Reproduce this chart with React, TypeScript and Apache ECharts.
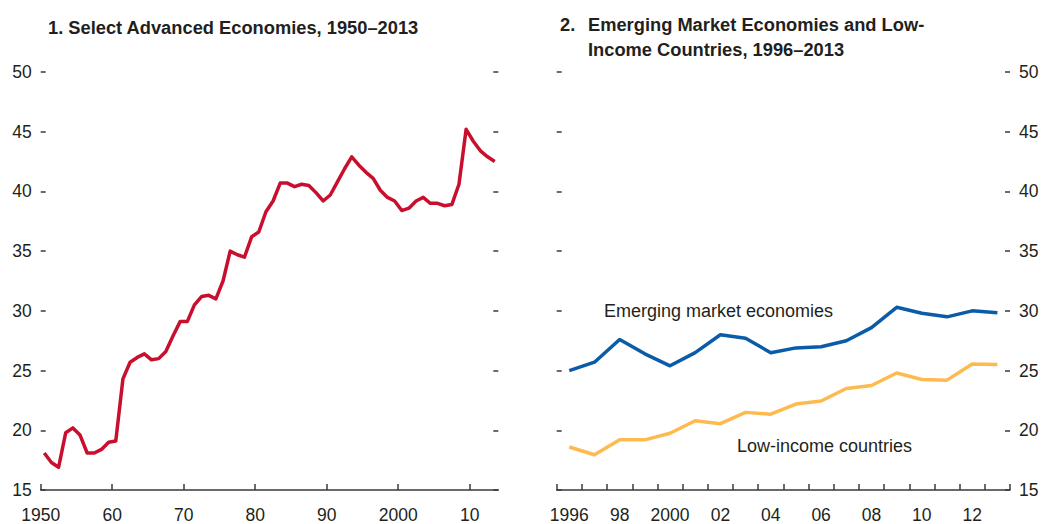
import React, { useEffect, useRef } from "react";
import * as echarts from "echarts";

// Panel 1: Select advanced economies, 1950–2013 (one value per year)
const advStartYear = 1950;
const advValues = [
  18.1, 17.3, 16.9, 19.8, 20.2, 19.6, 18.1, 18.1, 18.4, 19.0,
  19.1, 24.3, 25.7, 26.1, 26.4, 25.9, 26.0, 26.6, 27.9, 29.1,
  29.1, 30.5, 31.2, 31.3, 31.0, 32.5, 35.0, 34.7, 34.5, 36.2,
  36.6, 38.3, 39.2, 40.7, 40.7, 40.4, 40.6, 40.5, 39.9, 39.2,
  39.7, 40.8, 41.9, 42.9, 42.2, 41.6, 41.1, 40.1, 39.5, 39.2,
  38.4, 38.6, 39.2, 39.5, 39.0, 39.0, 38.8, 38.9, 40.6, 45.2,
  44.2, 43.4, 42.9, 42.5,
];
const advTickYears = [1950, 1960, 1970, 1980, 1990, 2000, 2010];

// Panel 2: Emerging market economies and low-income countries, 1996–2013
const emYears = [
  1996, 1997, 1998, 1999, 2000, 2001, 2002, 2003, 2004,
  2005, 2006, 2007, 2008, 2009, 2010, 2011, 2012, 2013,
];
const emergingValues = [
  25.0, 25.7, 27.6, 26.4, 25.4, 26.5, 28.0, 27.7, 26.5,
  26.9, 27.0, 27.5, 28.6, 30.3, 29.8, 29.5, 30.0, 29.85,
];
const lowIncomeValues = [
  18.6, 17.95, 19.2, 19.2, 19.75, 20.8, 20.55, 21.5, 21.35,
  22.2, 22.45, 23.5, 23.75, 24.8, 24.25, 24.2, 25.55, 25.5,
];

const yMin = 15;
const yMax = 50;
const yStep = 5;

const RED = "#c8102e";
const BLUE = "#0a5ca8";
const YELLOW = "#fdbb4f";
const TEXT = "#231f20";
const AXIS = "#3a3a3a";
const FONT = "'Liberation Sans', Arial, sans-serif";

export default function App() {
  const ref = useRef<HTMLDivElement>(null);

  useEffect(() => {
    if (!ref.current) return;
    const chart = echarts.init(ref.current, undefined, { renderer: "svg" });

    const advData = advValues.map((v, i) => [advStartYear + i + 0.5, v]);

    const yTick = { show: true, inside: true, length: 5, lineStyle: { color: AXIS, width: 1.5 } };
    const yLabel = { color: TEXT, fontSize: 17.5, fontFamily: FONT, margin: 9 };
    const titleFont = `bold 18.3px ${FONT}`;

    const option: any = {
      animation: false,
      backgroundColor: "#ffffff",
      grid: [
        { left: 40.7, top: 72, width: 457.6, height: 419 },
        { left: 556.7, top: 72, width: 453.3, height: 419 },
      ],
      xAxis: [
        {
          type: "value",
          gridIndex: 0,
          min: 1950,
          max: 2014,
          interval: 10,
          splitLine: { show: false },
          axisLine: { show: true, lineStyle: { color: AXIS, width: 1.5 } },
          axisTick: {
            show: true,
            inside: true,
            length: 6,
            customValues: advTickYears,
            lineStyle: { color: AXIS, width: 1.5 },
          },
          axisLabel: {
            customValues: advTickYears,
            color: TEXT,
            fontSize: 17.5,
            fontFamily: FONT,
            margin: 16,
            formatter: (v: number) =>
              v === 1950 || v === 2000 ? String(v) : String(v).slice(2),
          },
        },
        {
          type: "category",
          gridIndex: 1,
          data: emYears,
          boundaryGap: true,
          axisLine: { show: true, lineStyle: { color: AXIS, width: 1.5 } },
          axisTick: {
            show: true,
            inside: true,
            length: 6,
            interval: 0,
            lineStyle: { color: AXIS, width: 1.5 },
          },
          axisLabel: {
            interval: 1,
            color: TEXT,
            fontSize: 17.5,
            fontFamily: FONT,
            margin: 16,
            formatter: (v: string) =>
              v === "1996" || v === "2000" ? v : v.slice(2),
          },
        },
      ],
      yAxis: [
        {
          type: "value",
          gridIndex: 0,
          position: "left",
          min: yMin,
          max: yMax,
          interval: yStep,
          splitLine: { show: false },
          axisLine: { show: false },
          axisTick: yTick,
          axisLabel: yLabel,
        },
        {
          type: "value",
          gridIndex: 0,
          position: "right",
          min: yMin,
          max: yMax,
          interval: yStep,
          splitLine: { show: false },
          axisLine: { show: false },
          axisTick: yTick,
          axisLabel: { show: false },
        },
        {
          type: "value",
          gridIndex: 1,
          position: "left",
          min: yMin,
          max: yMax,
          interval: yStep,
          splitLine: { show: false },
          axisLine: { show: false },
          axisTick: yTick,
          axisLabel: { show: false },
        },
        {
          type: "value",
          gridIndex: 1,
          position: "right",
          min: yMin,
          max: yMax,
          interval: yStep,
          splitLine: { show: false },
          axisLine: { show: false },
          axisTick: yTick,
          axisLabel: yLabel,
        },
      ],
      series: [
        {
          name: "Select advanced economies",
          type: "line",
          xAxisIndex: 0,
          yAxisIndex: 0,
          data: advData,
          showSymbol: false,
          lineStyle: { color: RED, width: 3.5, join: "round" },
        },
        {
          name: "Emerging market economies",
          type: "line",
          xAxisIndex: 1,
          yAxisIndex: 2,
          data: emergingValues,
          showSymbol: false,
          lineStyle: { color: BLUE, width: 3.5, join: "round" },
        },
        {
          name: "Low-income countries",
          type: "line",
          xAxisIndex: 1,
          yAxisIndex: 2,
          data: lowIncomeValues,
          showSymbol: false,
          lineStyle: { color: YELLOW, width: 3.5, join: "round" },
        },
      ],
      graphic: [
        {
          type: "text",
          x: 48,
          y: 27,
          style: {
            text: "1. Select Advanced Economies, 1950–2013",
            fill: TEXT,
            font: titleFont,
            align: "left",
            verticalAlign: "middle",
          },
        },
        {
          type: "text",
          x: 560,
          y: 24,
          style: {
            text: "2.",
            fill: TEXT,
            font: titleFont,
            align: "left",
            verticalAlign: "middle",
          },
        },
        {
          type: "text",
          x: 588,
          y: 24,
          style: {
            text: "Emerging Market Economies and Low-",
            fill: TEXT,
            font: titleFont,
            align: "left",
            verticalAlign: "middle",
          },
        },
        {
          type: "text",
          x: 588,
          y: 49,
          style: {
            text: "Income Countries, 1996–2013",
            fill: TEXT,
            font: titleFont,
            align: "left",
            verticalAlign: "middle",
          },
        },
        {
          type: "text",
          x: 604,
          y: 311,
          style: {
            text: "Emerging market economies",
            fill: TEXT,
            font: `18px ${FONT}`,
            align: "left",
            verticalAlign: "middle",
          },
        },
        {
          type: "text",
          x: 737,
          y: 446,
          style: {
            text: "Low-income countries",
            fill: TEXT,
            font: `18px ${FONT}`,
            align: "left",
            verticalAlign: "middle",
          },
        },
      ],
    };

    chart.setOption(option);
    return () => chart.dispose();
  }, []);

  return (
    <div
      ref={ref}
      style={{ position: "absolute", left: 0, top: 0, width: 1042, height: 524 }}
    />
  );
}
